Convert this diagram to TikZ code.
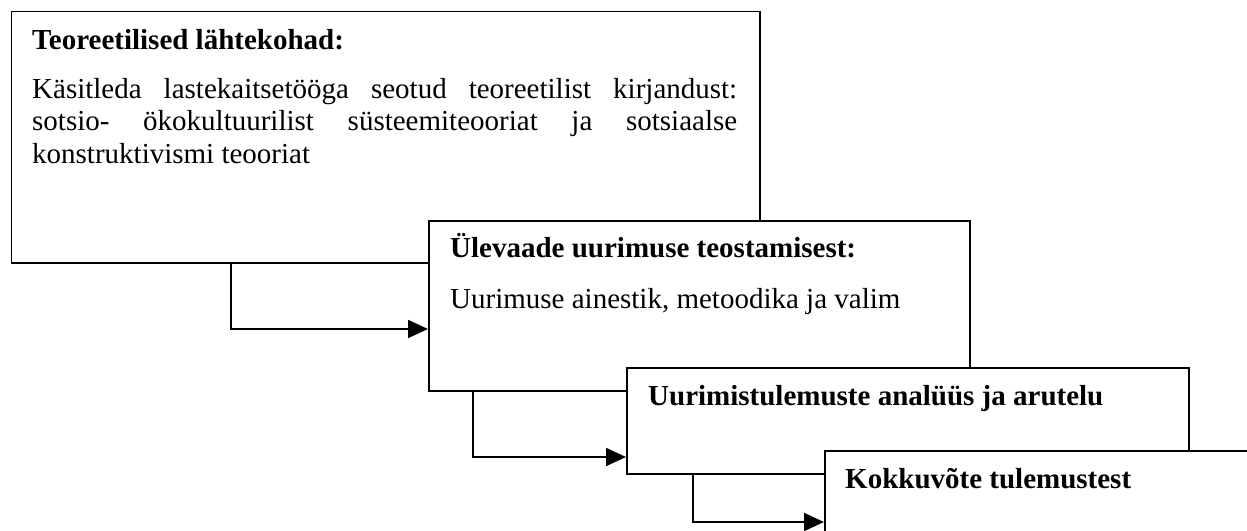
\documentclass[tikz,border=0pt]{standalone}
\usepackage{fontspec}
\setmainfont{Liberation Serif}
\usetikzlibrary{arrows.meta}
\begin{document}
\begin{tikzpicture}[x=1pt, y=-1pt, line join=miter,
    box/.style={draw, line width=1.8pt, fill=white, anchor=north west, inner sep=0pt},
    conn/.style={line width=1.8pt, -{Triangle[length=20pt, width=18pt]}},
    title/.style={font=\fontsize{29}{32.5}\selectfont\bfseries, anchor=base west, inner sep=0pt},
    body/.style={font=\fontsize{29}{32.5}\selectfont, anchor=base west, inner sep=0pt}]
    \useasboundingbox (0,0) rectangle (1247,530);
    \clip (0,0) rectangle (1247,530);
    % kastid
    \node[box, minimum width=748.5pt, minimum height=251.5pt] (teooria) at (10.5,10.5) {};
    \node[title] (teooriaT) at (32,49) {Teoreetilised lähtekohad:};
    \node[body, text width=705pt, align=justify] (teooriaB) at (32,98)
        {\hyphenpenalty=10000 Käsitleda lastekaitsetööga seotud teoreetilist kirjandust:\linebreak
         sotsio- ökokultuurilist süsteemiteooriat ja sotsiaalse\linebreak
         konstruktivismi teooriat};
    \node[box, minimum width=541pt, minimum height=170pt] (ylevaade) at (428,220) {};
    \node[title] (ylevaadeT) at (450,257) {Ülevaade uurimuse teostamisest:};
    \node[body] (ylevaadeB) at (450,308) {Uurimuse ainestik, metoodika ja valim};
    \node[box, minimum width=562pt, minimum height=106pt] (analyys) at (626,367) {};
    \node[title] (analyysT) at (648,405) {Uurimistulemuste analüüs ja arutelu};
    \node[box, minimum width=500pt, minimum height=150pt] (kokkuvote) at (824,450) {};
    \node[title] (kokkuvoteT) at (845,488) {Kokkuvõte tulemustest};
    % nooled
    \coordinate (k1) at (231,329);
    \coordinate (k2) at (473,457);
    \coordinate (k3) at (693,522);
    \draw[conn] (teooria.south -| k1) |- (ylevaade.west |- k1);
    \draw[conn] (ylevaade.south -| k2) |- (analyys.west |- k2);
    \draw[conn] (analyys.south -| k3) |- (kokkuvote.west |- k3);
\end{tikzpicture}
\end{document}
